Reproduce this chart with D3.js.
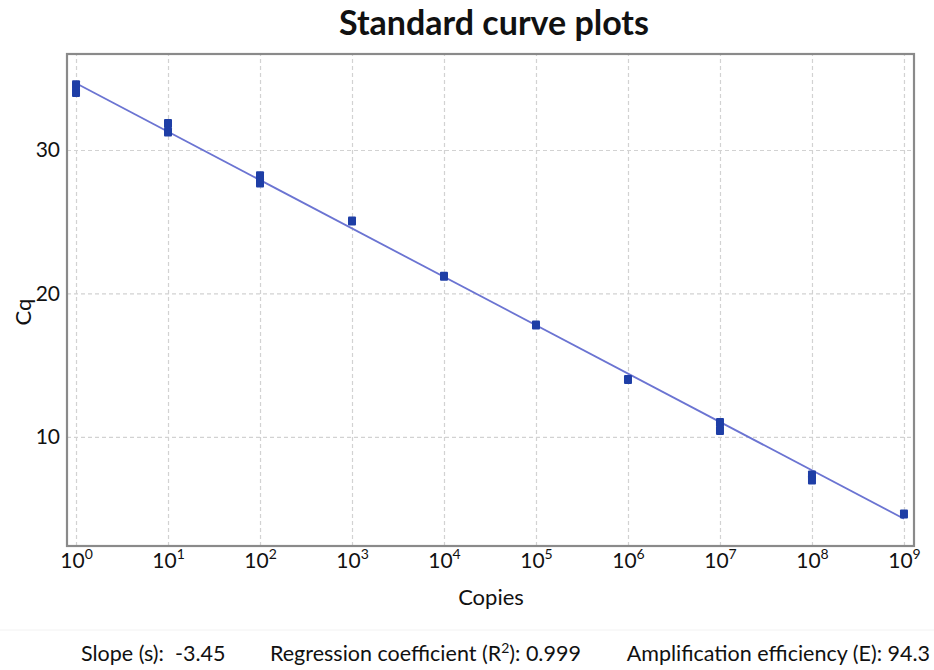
<!DOCTYPE html>
<html>
<head>
<meta charset="utf-8">
<script src="https://cdn.jsdelivr.net/npm/d3@7"></script>
<style>
  body { margin: 0; background: #fff; }
  text { font-family: Lato, "Open Sans", sans-serif; fill: #111; white-space: pre; }
</style>
</head>
<body>
<div id="chart"></div>
<script>
// standard curve data (copies, Cq)
var copies = [1, 1, 10, 10, 100, 100, 1e3, 1e4, 1e5, 1e6, 1e7, 1e7, 1e8, 1e8, 1e9];
var cqValues = [34.55, 34.0, 31.85, 31.25, 28.2, 27.7, 25.05, 21.2, 17.8, 14.0, 11.0, 10.45, 7.35, 7.0, 4.63];
var fitCopies = [1, 1e9];
var fitCq = [34.65, 4.3];
var xTicks = [0, 1, 2, 3, 4, 5, 6, 7, 8, 9];
var yTicks = [10, 20, 30];
var statsText = ["Slope (s):  -3.45", "Regression coefficient (R", "Amplification efficiency (E): 94.3"];

var margin = {top: 54, right: 20, bottom: 124, left: 67};
var width = 934 - margin.left - margin.right;
var height = 670 - margin.top - margin.bottom;

var svg = d3.select("#chart").append("svg")
    .attr("width", 934)
    .attr("height", 670);

var g = svg.append("g")
    .attr("transform", "translate(" + margin.left + "," + margin.top + ")");

var x = d3.scaleLog()
    .domain([Math.pow(10, -0.098), Math.pow(10, 9.109)])
    .range([0, width]);

var y = d3.scaleLinear()
    .domain([2.4, 36.69])
    .range([height, 0]);

// grid
var xGrid = g.append("g")
    .attr("transform", "translate(0," + height + ")")
    .call(d3.axisBottom(x).tickValues(xTicks.map(function (d) { return Math.pow(10, d); }))
        .tickSize(-height).tickFormat(""));
var yGrid = g.append("g")
    .call(d3.axisLeft(y).tickValues(yTicks).tickSize(-width).tickFormat(""));
[xGrid, yGrid].forEach(function (a) {
    a.select(".domain").remove();
    a.selectAll("line")
        .attr("stroke", "#d2d2d2")
        .attr("stroke-width", 1.2)
        .attr("stroke-dasharray", "4,3");
});

// x tick labels with superscript
var xAxis = g.append("g")
    .attr("transform", "translate(0," + height + ")")
    .call(d3.axisBottom(x).tickValues(xTicks.map(function (d) { return Math.pow(10, d); }))
        .tickSize(0).tickPadding(7).tickFormat(""));
xAxis.select(".domain").remove();
xAxis.selectAll(".tick text")
    .data(xTicks)
    .attr("font-size", 21)
    .attr("fill", "#111")
    .attr("dy", "0.71em")
    .each(function (d) {
        var t = d3.select(this);
        t.append("tspan").text("10");
        t.append("tspan").attr("dy", -9).attr("font-size", 14).text(d);
    });

var yAxis = g.append("g")
    .call(d3.axisLeft(y).tickValues(yTicks).tickSize(0).tickPadding(7));
yAxis.select(".domain").remove();
yAxis.selectAll(".tick text")
    .attr("font-size", 21)
    .attr("fill", "#111");

// frame
g.append("rect")
    .attr("x", 0)
    .attr("y", 0)
    .attr("width", width)
    .attr("height", height)
    .attr("fill", "none")
    .attr("stroke", "#8a8a8a")
    .attr("stroke-width", 2.2);

// fitted line
g.append("line")
    .attr("x1", x(fitCopies[0]))
    .attr("y1", y(fitCq[0]))
    .attr("x2", x(fitCopies[1]))
    .attr("y2", y(fitCq[1]))
    .attr("stroke", "#6b74d2")
    .attr("stroke-width", 1.8);

// points
g.selectAll(".pt")
    .data(copies)
    .enter()
    .append("rect")
    .attr("class", "pt")
    .attr("x", function (d) { return x(d) - 4; })
    .attr("y", function (d, i) { return y(cqValues[i]) - 4.5; })
    .attr("width", 8)
    .attr("height", 9)
    .attr("rx", 1)
    .attr("fill", "#1e3ea6");

// titles
svg.append("text")
    .attr("x", 494)
    .attr("y", 35)
    .attr("text-anchor", "middle")
    .attr("font-size", 34)
    .attr("font-weight", "bold")
    .text("Standard curve plots");

svg.append("text")
    .attr("x", 491)
    .attr("y", 605)
    .attr("text-anchor", "middle")
    .attr("font-size", 22)
    .text("Copies");

svg.append("text")
    .attr("transform", "translate(31,312) rotate(-90)")
    .attr("text-anchor", "middle")
    .attr("font-size", 22)
    .text("Cq");

// separator band
svg.append("line")
    .attr("x1", 0).attr("x2", 934)
    .attr("y1", 630).attr("y2", 630)
    .attr("stroke", "#f2f2f2")
    .attr("stroke-width", 1);

// stats
svg.append("text")
    .attr("x", 81).attr("y", 661)
    .attr("font-size", 21.5)
    .text(statsText[0]);

var reg = svg.append("text")
    .attr("x", 270).attr("y", 661)
    .attr("font-size", 21.5);
reg.append("tspan").text(statsText[1]);
reg.append("tspan").attr("dy", -8).attr("font-size", 14).text("2");
reg.append("tspan").attr("dy", 8).text("): 0.999");

svg.append("text")
    .attr("x", 930).attr("y", 661)
    .attr("text-anchor", "end")
    .attr("font-size", 21.5)
    .text(statsText[2]);
</script>
</body>
</html>
